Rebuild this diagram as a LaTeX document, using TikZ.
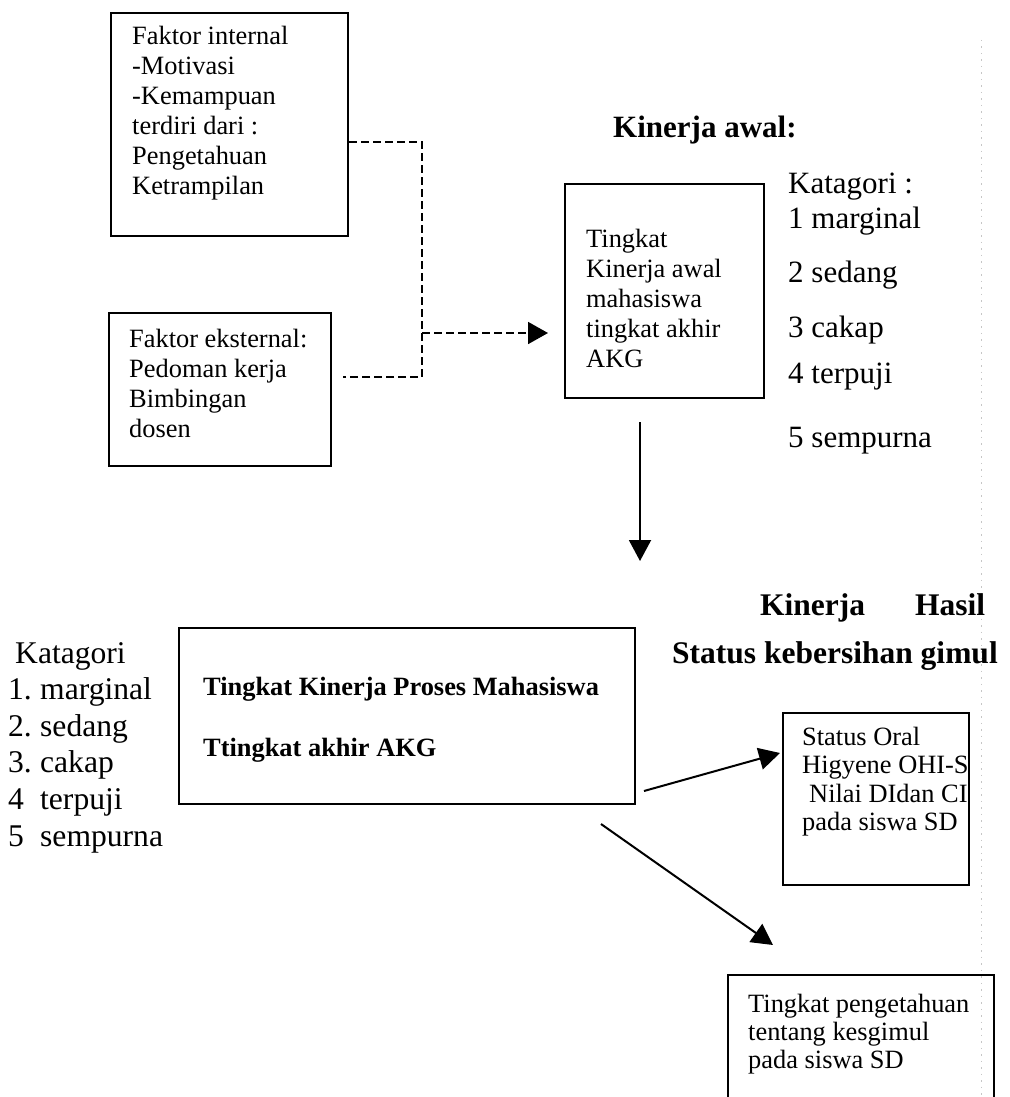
\documentclass[tikz,border=0pt]{standalone}
\usepackage{fontspec}
\setmainfont{Liberation Serif}
\usetikzlibrary{arrows.meta,calc}
\newcommand{\mylines}[1]{\begin{tabular}[t]{@{}l@{}}#1\end{tabular}}
\begin{document}
\begin{tikzpicture}[x=1pt,y=-1pt,
  box/.style={draw, line width=2pt, rectangle, inner sep=0pt, anchor=north west},
  txt/.style={anchor=base west, inner sep=0pt},
  arr/.style={line width=2pt, -{Triangle[length=21pt,width=22pt]}},
  dsh/.style={line width=1.8pt, dash pattern=on 8pt off 4pt},
  body/.style={font=\fontsize{26.4}{30}\selectfont},
  big/.style={font=\fontsize{31}{36}\selectfont}]
\useasboundingbox (0,0) rectangle (1009,1097);

% faint scan line
\draw[gray!45, line width=0.7pt, dash pattern=on 1.5pt off 5pt] (981,40) -- (981,1097);

% boxes
\node[box, minimum width=237pt, minimum height=223pt] (fi) at (110,12) {};
\node[box, minimum width=222pt, minimum height=153pt] (fe) at (108,312) {};
\node[box, minimum width=199pt, minimum height=214pt] (mid) at (564,183) {};
\node[box, minimum width=456pt, minimum height=176pt] (bigb) at (178,627) {};
\node[box, minimum width=186pt, minimum height=172pt] (st) at (782,712) {};
\node[box, minimum width=266pt, minimum height=160pt] (kb) at (727,974) {};

% box texts
\node[txt, body] (fit) at (132,45) {\mylines{Faktor internal\\-Motivasi\\-Kemampuan\\terdiri dari :\\Pengetahuan\\Ketrampilan}};
\node[txt, body] (fet) at (129,347) {\mylines{Faktor eksternal:\\Pedoman kerja\\Bimbingan\\dosen}};
\node[txt, body] (midt) at (586,247) {\mylines{Tingkat\\Kinerja awal\\mahasiswa\\tingkat akhir\\AKG}};
\node[txt, font=\fontsize{26.4}{30}\selectfont\bfseries] (bigt1) at (203,695) {Tingkat Kinerja Proses Mahasiswa};
\node[txt, font=\fontsize{26.4}{30}\selectfont\bfseries] (bigt2) at (203,756) {Ttingkat akhir AKG};
\node[txt, font=\fontsize{26.4}{28.5}\selectfont] (stt) at (802,745) {\mylines{Status Oral\\Higyene OHI-S\\\hspace*{7pt}Nilai DIdan CI\\pada siswa SD}};
\node[txt, font=\fontsize{26.4}{28}\selectfont] (kbt) at (748,1012) {\mylines{Tingkat pengetahuan\\tentang kesgimul\\pada siswa SD}};

% titles
\node[txt, font=\fontsize{31}{36}\selectfont\bfseries] (ka) at (613,138) {Kinerja awal:};
\node[txt, font=\fontsize{31.5}{36}\selectfont\bfseries] (kh) at (760,615) {Kinerja\hspace{50pt}Hasil};
\node[txt, font=\fontsize{31.5}{36}\selectfont\bfseries] (skg) at (672,663) {Status kebersihan gimul};

% right list
\node[txt, big] (k0) at (788,193) {Katagori :};
\node[txt, big] (k1) at (788,228) {1 marginal};
\node[txt, big] (k2) at (788,282) {2 sedang};
\node[txt, big] (k3) at (788,337) {3 cakap};
\node[txt, big] (k4) at (788,383) {4 terpuji};
\node[txt, big] (k5) at (788,447) {5 sempurna};

% left list
\node[txt, font=\fontsize{31.6}{36.6}\selectfont] (ll) at (8,663) {\mylines{\hspace*{7pt}Katagori\\\makebox[32pt][l]{1.}marginal\\\makebox[32pt][l]{2.}sedang\\\makebox[32pt][l]{3.}cakap\\\makebox[32pt][l]{4}terpuji\\\makebox[32pt][l]{5}sempurna}};

% dashed connectors
\coordinate (j1) at (422,142);
\coordinate (j2) at (422,377);
\coordinate (j3) at (343,377);
\coordinate (j4) at (422,333);
\draw[dsh] (j1 -| fi.east) -- (j1) -- (j2) -- (j3);
\draw[dsh, -{Triangle[length=20pt,width=22pt]}, shorten >=16pt] (j4) -- (j4 -| mid.west);

% solid arrows
\draw[arr] ([xshift=-24.5pt,yshift=-23pt]mid.south) -- ([xshift=-24.5pt,yshift=-162pt]mid.south);
\draw[arr] ([xshift=8pt,yshift=14pt]bigb.south east) -- ([xshift=-2pt,yshift=46pt]st.west);
\draw[arr] ([xshift=-35pt,yshift=-19pt]bigb.south east) -- ([xshift=46pt,yshift=29pt]kb.north west);
\end{tikzpicture}
\end{document}
